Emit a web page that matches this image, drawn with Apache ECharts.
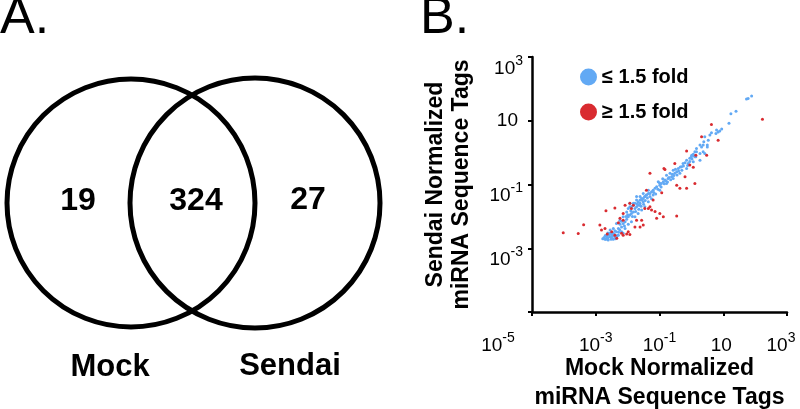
<!DOCTYPE html>
<html>
<head>
<meta charset="utf-8">
<title>miRNA tags, Mock vs Sendai</title>
<script src="https://cdn.jsdelivr.net/npm/echarts@6/dist/echarts.min.js"></script>
<style>
  html, body { margin: 0; padding: 0; background: #fff; }
  #chart { width: 800px; height: 409px; }
</style>
</head>
<body>
<div id="chart"></div>
<script>
// panel A
const vennSets = ['Mock', 'Sendai']
const vennCounts = [19, 324, 27] // mock only, shared, sendai only

// panel B, axis ticks (powers of ten)
const tickExp = [-5, -3, -1, 1, 3]
const seriesNames = ['≤ 1.5 fold', '≥ 1.5 fold']

// log10 of normalized tags, [mock, sendai]
const unchangedLog = [
  [-2.78, -2.70], [-2.74, -2.66], [-2.70, -2.60], [-2.68, -2.72], [-2.62, -2.68], [-2.58, -2.58], [-2.52, -2.72],
  [-2.48, -2.62], [-2.42, -2.55], [-2.38, -2.70], [-2.33, -2.60], [-2.28, -2.50], [-2.62, -2.52], [-2.66, -2.62],
  [-2.71, -2.72], [-2.66, -2.69], [-2.61, -2.74], [-2.55, -2.64], [-2.50, -2.69], [-2.45, -2.72], [-2.40, -2.64],
  [-2.55, -2.53], [-2.45, -2.53], [-2.35, -2.48], [-2.29, -2.38], [-2.24, -2.25], [-2.19, -2.33], [-2.14, -2.22],
  [-2.08, -2.17], [-2.03, -2.09], [-1.98, -2.01], [-1.93, -1.96], [-1.88, -1.91], [-1.82, -1.86], [-1.77, -1.75],
  [-1.72, -1.70], [-1.67, -1.65], [-1.61, -1.59], [-1.56, -1.49], [-1.51, -1.44], [-1.46, -1.38], [-1.41, -1.33],
  [-1.35, -1.28], [-2.19, -2.48], [-2.08, -2.38], [-1.98, -2.25], [-1.88, -2.17], [-1.77, -2.01], [-1.67, -1.91],
  [-1.56, -1.80], [-1.46, -1.70], [-1.35, -1.54], [-1.61, -1.38], [-1.72, -1.49], [-1.82, -1.59], [-1.93, -1.70],
  [-2.03, -1.86], [-2.14, -2.01], [-2.24, -2.12], [-2.35, -2.22], [-2.45, -2.38], [-2.55, -2.43], [-2.61, -2.59],
  [-2.35, -2.64], [-2.29, -2.59], [-2.14, -2.53],
  [0.32, 0.18], [0.37, 0.03], [0.27, -0.03], [0.16, 0.03], [0.11, -0.13], [0.01, -0.08], [-0.05, -0.18],
  [-0.15, -0.24], [-0.10, -0.34], [-0.26, -0.34], [-0.31, -0.44], [-0.41, -0.50], [-0.46, -0.60], [-0.57, -0.55],
  [-0.52, -0.65], [-0.67, -0.65], [-0.62, -0.76], [-0.73, -0.81], [-0.78, -0.71], [-0.83, -0.86], [-0.88, -0.91],
  [-0.94, -0.97], [-0.99, -1.02], [-1.04, -0.91], [-1.09, -1.07], [-1.14, -1.12], [-1.20, -1.18], [-1.25, -1.23],
  [-1.30, -1.28], [-1.35, -1.18], [-1.41, -1.33], [-1.46, -1.38], [-1.51, -1.28], [-1.56, -1.44], [-1.61, -1.49],
  [-1.67, -1.54], [-1.72, -1.38], [-1.77, -1.59], [-1.82, -1.65], [-1.88, -1.70], [-1.93, -1.59], [-1.98, -1.75],
  [-1.61, -1.65], [-1.51, -1.54], [-1.20, -1.33], [-0.99, -1.18], [-0.78, -0.97], [-0.57, -0.81], [-0.36, -0.65],
  [-0.15, -0.50], [0.06, -0.29], [0.27, -0.24], [0.42, -0.03],
  [1.89, 1.78], [1.78, 1.70], [1.73, 1.68], [1.40, 1.30], [1.24, 1.22], [1.18, 0.92], [0.95, 0.74],
  [0.89, 0.68], [0.84, 0.65], [0.79, 0.71], [0.77, 0.60], [0.63, 0.62], [0.58, 0.55], [0.53, 0.39],
  [0.42, 0.50], [0.39, 0.34], [0.37, 0.24], [0.27, 0.24], [0.50, 0.24], [0.50, 0.18], [0.16, 0.13],
  [0.11, 0.03], [0.06, -0.05], [0.00, -0.13], [0.14, -0.13],
  [-2.00, -1.95], [-1.90, -1.82], [-1.85, -2.00], [-1.75, -1.85], [-1.70, -1.60], [-1.65, -1.78], [-1.58, -1.68],
  [-1.50, -1.62], [-1.45, -1.50], [-1.38, -1.42], [-1.30, -1.38], [-1.25, -1.45], [-1.18, -1.25], [-1.12, -1.30],
  [-1.05, -1.15], [-1.00, -0.95], [-0.95, -1.08], [-0.90, -0.82], [-0.85, -0.98], [-0.80, -0.88], [-0.75, -0.92],
  [-0.70, -0.78], [-0.65, -0.85], [-0.60, -0.68], [-0.55, -0.72], [-0.50, -0.52], [-0.45, -0.70], [-0.40, -0.58],
  [-0.35, -0.45], [-0.30, -0.55], [-0.25, -0.42], [-0.20, -0.32], [-0.12, -0.40], [-0.05, -0.28], [0.02, -0.20],
  [0.08, -0.10], [-2.25, -2.42], [-2.20, -2.15], [-2.10, -2.30], [-2.05, -2.00], [-2.40, -2.45], [-2.50, -2.58]
]
const changedLog = [
  [-4.02, -2.51], [-3.55, -2.54], [-3.38, -2.26], [-2.87, -2.27], [-2.82, -2.43], [-2.71, -2.38], [-2.64, -2.55],
  [-2.68, -1.82], [-2.40, -1.74], [-2.34, -2.69], [-2.29, -2.20], [-2.24, -2.06], [-2.14, -2.12], [-2.14, -2.59],
  [-2.03, -2.55], [-1.93, -2.57], [-2.14, -1.91], [-2.08, -1.65], [-1.93, -1.59], [-1.82, -1.65], [-1.77, -2.33],
  [-1.72, -2.12], [-1.61, -2.33], [-1.51, -2.27], [-1.56, -2.12], [-1.46, -1.75], [-1.35, -1.75], [-1.30, -1.70],
  [-1.25, -1.80], [-1.20, -1.49], [-1.14, -1.85], [-1.09, -2.06], [-0.99, -1.91], [-0.88, -2.01], [-1.41, -1.18],
  [-1.30, -0.65], [-0.86, -0.50], [-0.52, -0.34], [-0.46, -1.99], [-0.46, -1.02], [-0.36, -1.12], [-0.20, -0.76],
  [-0.15, -1.12], [0.06, -0.46], [0.14, -0.08], [0.32, 0.50], [0.48, -0.08], [0.63, 0.88], [0.84, 0.39],
  [2.23, 1.05], [-0.15, 0.05], [-2.50, -2.48], [-2.40, -2.59], [-2.19, -2.53], [-1.98, -2.48], [-1.88, -1.75],
  [-0.93, -1.26], [-0.83, -0.53], [0.11, -0.97], [-0.05, -0.39]
]

const FONT = '"Liberation Sans", Arial, sans-serif'
const BLUE = '#62a9f4'
const RED = '#d92b30'

const supRich = {
  b: {fontSize: 19, fontFamily: FONT, color: '#000', verticalAlign: 'bottom'},
  s: {fontSize: 14, fontFamily: FONT, color: '#000', verticalAlign: 'bottom', padding: [0, 0, 10, 0]},
  c: {fontSize: 19, fontFamily: FONT, color: '#000', padding: [0, 5, 18, 0]},
  gap: {width: 68, fontSize: 14},
  gapEnd: {width: 12, fontSize: 14}
}

function xLabel(v) {
  if (v === 1) return '{b|10}{s| }'
  if (v === tickExp[0]) return '{b|10}{s|' + v + '}{gap| }'
  if (v === tickExp[tickExp.length - 1]) return '{b|10}{s|' + v + '}{gapEnd| }'
  return '{b|10}{s|' + v + '}'
}
function yLabel(v) {
  if (v === tickExp[0]) return ''
  if (v === 1) return '{c|10}'
  return '{b|10}{s|' + v + '}'
}

const axisCommon = {
  type: 'value',
  min: tickExp[0],
  max: tickExp[tickExp.length - 1],
  interval: 2,
  splitLine: {show: false},
  axisLine: {onZero: false, lineStyle: {color: '#000', width: 2.5}},
  axisTick: {length: 4, lineStyle: {color: '#000', width: 2}},
  nameLocation: 'middle',
  nameMoveOverlap: false,
  nameTextStyle: {fontFamily: FONT, fontSize: 23, fontWeight: 'bold', color: '#000'}
}

const chart = echarts.init(document.getElementById('chart'))
chart.setOption({
  animation: false,
  backgroundColor: '#fff',
  grid: {left: 532, top: 57, width: 255, height: 255, containLabel: false, outerBoundsMode: 'none'},
  legend: {
    orient: 'vertical',
    left: 575,
    top: 62,
    itemWidth: 17,
    itemHeight: 17,
    itemGap: 15,
    icon: 'circle',
    data: seriesNames,
    textStyle: {fontFamily: FONT, fontSize: 20, fontWeight: 'bold', color: '#000'}
  },
  xAxis: Object.assign({}, axisCommon, {
    name: 'Mock Normalized\nmiRNA Sequence Tags',
    nameGap: 42,
    nameTextStyle: Object.assign({}, axisCommon.nameTextStyle, {lineHeight: 29}),
    axisLabel: {margin: 19, formatter: xLabel, rich: supRich}
  }),
  yAxis: Object.assign({}, axisCommon, {
    name: 'Sendai Normalized\nmiRNA Sequence Tags',
    nameGap: 57,
    nameRotate: 90,
    nameTextStyle: Object.assign({}, axisCommon.nameTextStyle, {lineHeight: 26}),
    axisLabel: {margin: 9, padding: [18, 0, 0, 0], formatter: yLabel, rich: supRich}
  }),
  series: [
    {
      name: seriesNames[0],
      type: 'scatter',
      data: unchangedLog,
      symbolSize: 3,
      itemStyle: {color: BLUE, opacity: 1}
    },
    {
      name: seriesNames[1],
      type: 'scatter',
      data: changedLog,
      symbolSize: 3,
      itemStyle: {color: RED, opacity: 1}
    }
  ],
  graphic: [
    {type: 'text', x: 0, y: 19, style: {text: 'A.', font: '52px ' + FONT, fill: '#000', align: 'left', verticalAlign: 'middle'}},
    {type: 'text', x: 420, y: 19, style: {text: 'B.', font: '52px ' + FONT, fill: '#000', align: 'left', verticalAlign: 'middle'}},
    {type: 'circle', shape: {cx: 131, cy: 203, r: 124}, style: {fill: 'none', stroke: '#000', lineWidth: 5}},
    {type: 'circle', shape: {cx: 255, cy: 203, r: 125}, style: {fill: 'none', stroke: '#000', lineWidth: 5}},
    {type: 'text', x: 78, y: 201, style: {text: String(vennCounts[0]), font: 'bold 32px ' + FONT, fill: '#000', align: 'center', verticalAlign: 'middle'}},
    {type: 'text', x: 196, y: 201, style: {text: String(vennCounts[1]), font: 'bold 32px ' + FONT, fill: '#000', align: 'center', verticalAlign: 'middle'}},
    {type: 'text', x: 308, y: 200, style: {text: String(vennCounts[2]), font: 'bold 32px ' + FONT, fill: '#000', align: 'center', verticalAlign: 'middle'}},
    {type: 'text', x: 110, y: 367, style: {text: vennSets[0], font: 'bold 31px ' + FONT, fill: '#000', align: 'center', verticalAlign: 'middle'}},
    {type: 'text', x: 290, y: 366, style: {text: vennSets[1], font: 'bold 31px ' + FONT, fill: '#000', align: 'center', verticalAlign: 'middle'}}
  ]
})
</script>
</body>
</html>
